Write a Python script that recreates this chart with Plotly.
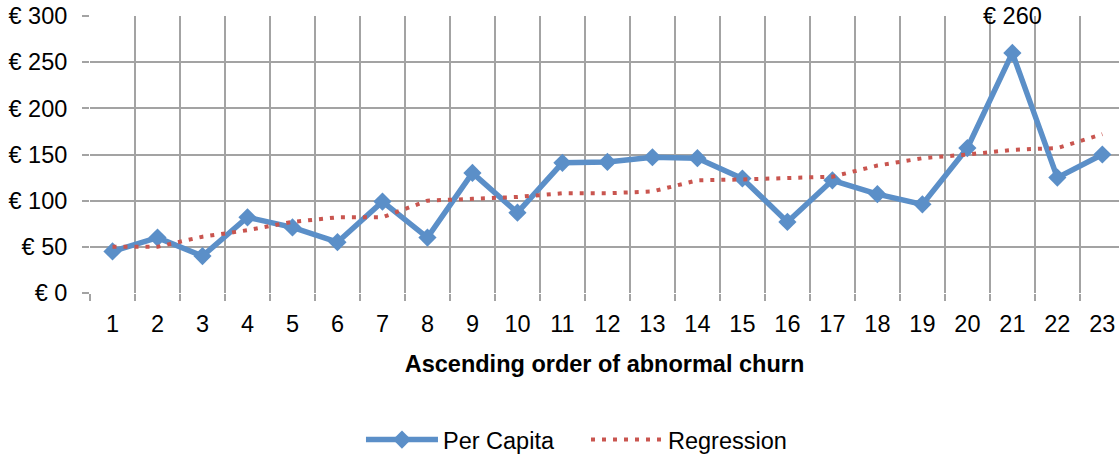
import plotly.graph_objects as go

categories = list(range(1, 24))
per_capita = [45, 60, 40, 82, 71, 55, 99, 60, 130, 87, 141, 142, 147, 146, 124,
              77, 122, 107, 96, 157, 260, 125, 150]
regression = [50, 50, 61, 68, 77, 82, 82, 100, 102, 104, 108, 108, 110, 122, 123,
              124, 126, 138, 146, 150, 155, 157, 172]
y_ticks = [0, 50, 100, 150, 200, 250, 300]

GRID = "#A3A3A3"
FONT = "Liberation Sans, Arial, sans-serif"
FS = 23.5

fig = go.Figure()
fig.add_trace(go.Scatter(
    x=categories, y=per_capita, name="Per Capita", mode="lines+markers",
    line=dict(color="#5B8FC8", width=5.5),
    marker=dict(symbol="diamond", size=14, color="#5B8FC8"),
))
fig.add_trace(go.Scatter(
    x=categories, y=regression, name="Regression", mode="lines",
    line=dict(color="#C9554F", width=4, dash="4px,7px"),
))

fig.add_annotation(x=21, y=per_capita[20], text="€ 260", showarrow=False,
                   yanchor="middle", yshift=37, font=dict(size=FS, color="black"))

fig.update_layout(
    width=1119, height=455,
    margin=dict(l=90, r=0, t=16, b=162, autoexpand=False),
    paper_bgcolor="white", plot_bgcolor="white",
    font=dict(family=FONT, size=FS, color="black"),
    showlegend=True,
    legend=dict(orientation="h", x=0.482, xanchor="center", y=-0.53, yanchor="middle",
                font=dict(size=FS), itemwidth=72, entrywidth=138,
                entrywidthmode="pixels"),
    xaxis=dict(
        range=[0.5, 23.37], tickmode="array", tickvals=categories,
        ticktext=[str(c) for c in categories],
        showgrid=False, zeroline=False, ticks="", ticklabelstandoff=14,
        minor=dict(tick0=0.5, dtick=1, showgrid=True, gridcolor=GRID, gridwidth=1.5,
                   ticks="outside", ticklen=7, tickcolor=GRID, tickwidth=1.5),
        title=dict(text="<b>Ascending order of abnormal churn</b>", standoff=20,
                   font=dict(size=FS)),
    ),
    yaxis=dict(
        range=[0, 300], tickmode="array", tickvals=y_ticks,
        ticktext=[f"€ {v}" for v in y_ticks],
        showgrid=True, gridcolor=GRID, gridwidth=1.5, zeroline=False,
        ticks="outside", ticklen=7, tickcolor=GRID, tickwidth=1.5,
        ticklabelstandoff=10,
    ),
)

fig.write_html("out.html", config={"displayModeBar": False},
               post_script="document.body.style.margin='0';document.body.style.overflow='hidden';")
